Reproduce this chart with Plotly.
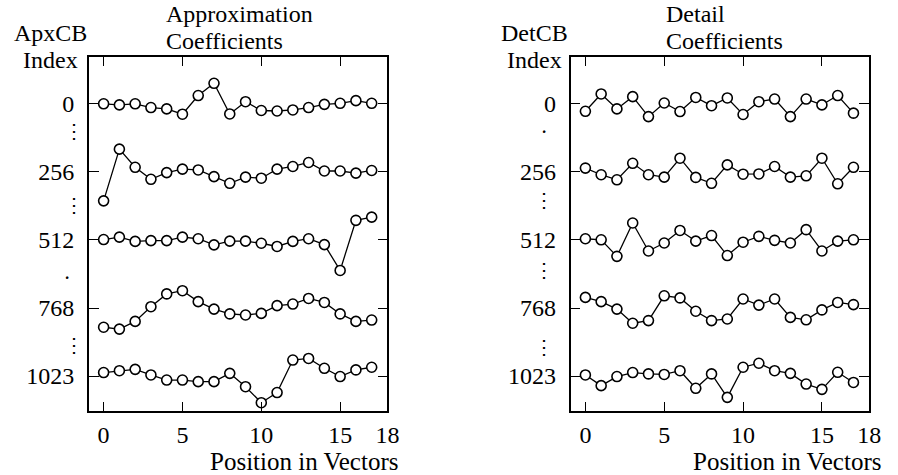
import plotly.graph_objects as go

positions = list(range(18))

# Approximation codebook vectors (plotted on the ApxCB index axis)
apx_0 = [2, 6, 2, 16, 21, 41, -29, -75, 40, -6, 27, 29, 25, 16, 4, 0, -10, 0]
apx_256 = [366, 172, 240, 285, 260, 247, 250, 275, 300, 277, 281, 247, 237, 222, 254, 254, 262, 252]
apx_512 = [511, 502, 518, 515, 515, 502, 508, 531, 517, 517, 525, 537, 518, 508, 530, 627, 439, 427]
apx_768 = [840, 847, 818, 763, 715, 703, 744, 772, 790, 794, 788, 759, 753, 732, 747, 790, 818, 813]
apx_1023 = [1010, 1003, 998, 1019, 1038, 1038, 1044, 1044, 1013, 1063, 1123, 1085, 963, 957, 994, 1025, 1000, 990]

# Detail codebook vectors (plotted on the DetCB index axis)
det_0 = [30, -35, 21, -25, 50, -1, 31, -22, 9, -20, 42, -6, -16, 50, -16, 6, -29, 37]
det_256 = [243, 268, 287, 225, 268, 277, 206, 278, 300, 231, 266, 265, 237, 277, 272, 206, 302, 240]
det_512 = [508, 512, 574, 449, 554, 524, 477, 517, 496, 571, 521, 499, 514, 524, 474, 554, 517, 512]
det_768 = [728, 744, 772, 825, 815, 722, 730, 780, 815, 809, 734, 757, 734, 803, 812, 775, 747, 755]
det_1023 = [1019, 1059, 1025, 1010, 1015, 1017, 1003, 1069, 1015, 1103, 990, 975, 1003, 1013, 1053, 1073, 1009, 1047]

index_ticks = [0, 256, 512, 768, 1023]
index_labels = ["0", "256", "512", "768", "1023"]
pos_ticks = [0, 5, 10, 15, 18]
pos_labels = ["0", "5", "10", "15", "18"]

# elision marks between index labels: (value, text)
left_gaps = [(104, "⋮"), (381, "⋮"), (654, "·"), (906, "⋮")]
right_gaps = [(106, "·"), (363, "⋮"), (625, "⋮"), (914, "⋮")]

FONT = "Liberation Serif"
fig = go.Figure()

def add_series(ys, xa, ya):
    fig.add_trace(go.Scatter(
        x=positions, y=ys, xaxis=xa, yaxis=ya, mode="lines+markers",
        line=dict(color="black", width=1.3),
        marker=dict(symbol="circle", size=10, color="white",
                    line=dict(color="black", width=1.6)),
        showlegend=False, hoverinfo="skip"))

for s in [apx_0, apx_256, apx_512, apx_768, apx_1023]:
    add_series(s, "x", "y")
for s in [det_0, det_256, det_512, det_768, det_1023]:
    add_series(s, "x2", "y2")

W, H = 898, 475
ydom = [1 - 410.7 / H, 1 - 57.3 / H]
xdom1 = [90 / W, 392.7 / W]
xdom2 = [578.3 / W, 881.0 / W]

axfont = dict(family=FONT, size=24, color="black")
xcommon = dict(range=[-0.94, 18], tickvals=pos_ticks, ticktext=pos_labels,
               ticks="inside", ticklen=9, tickwidth=1.3, tickcolor="black",
               showline=True, linecolor="black", linewidth=1.6, mirror="ticks",
               showgrid=False, zeroline=False, tickfont=axfont,
               ticklabelstandoff=2)
ycommon = dict(range=[1153, -172.5], tickvals=index_ticks, ticktext=index_labels,
               ticks="inside", ticklen=10, tickwidth=1.3, tickcolor="black",
               showline=True, linecolor="black", linewidth=1.6, mirror="ticks",
               showgrid=False, zeroline=False, tickfont=axfont,
               ticklabelstandoff=8)

fig.update_layout(
    width=W, height=H, margin=dict(l=0, r=0, t=0, b=0),
    paper_bgcolor="white", plot_bgcolor="white",
    xaxis=dict(domain=xdom1, anchor="y", **xcommon),
    yaxis=dict(domain=ydom, anchor="x", **ycommon),
    xaxis2=dict(domain=xdom2, anchor="y2", **xcommon),
    yaxis2=dict(domain=ydom, anchor="x2", **ycommon),
)

ann = []
def txt(x, y, t, xanchor="center", yanchor="middle", size=24):
    ann.append(dict(x=x, y=y, xref="paper", yref="paper", text=t, showarrow=False,
                    xanchor=xanchor, yanchor=yanchor, borderpad=0,
                    font=dict(family=FONT, size=size, color="black")))

def py(p):
    return 1 - p / H

# Left panel labels
txt(51 / W, py(33), "ApxCB")
txt(51 / W, py(60), "Index")
txt(167 / W, py(14), "Approximation", xanchor="left")
txt(167 / W, py(41), "Coefficients", xanchor="left")
txt(404 / W, py(461), "Position in Vectors", xanchor="right", size=25)
# Right panel labels
txt(542 / W, py(33), "DetCB")
txt(542 / W, py(60), "Index")
txt(674 / W, py(14), "Detail", xanchor="left")
txt(674 / W, py(41), "Coefficients", xanchor="left")
txt(894 / W, py(461), "Position in Vectors", xanchor="right", size=25)

for v, t in left_gaps:
    ann.append(dict(x=63 / W, y=v, xref="paper", yref="y", text=t, showarrow=False,
                    font=dict(family="DejaVu Serif", size=20, color="black")))
for v, t in right_gaps:
    ann.append(dict(x=551 / W, y=v, xref="paper", yref="y2", text=t, showarrow=False,
                    font=dict(family="DejaVu Serif", size=20, color="black")))

fig.update_layout(annotations=ann)
fig.write_html("out.html", config={"displayModeBar": False},
               post_script="document.body.style.margin='0';document.body.style.padding='0';")
